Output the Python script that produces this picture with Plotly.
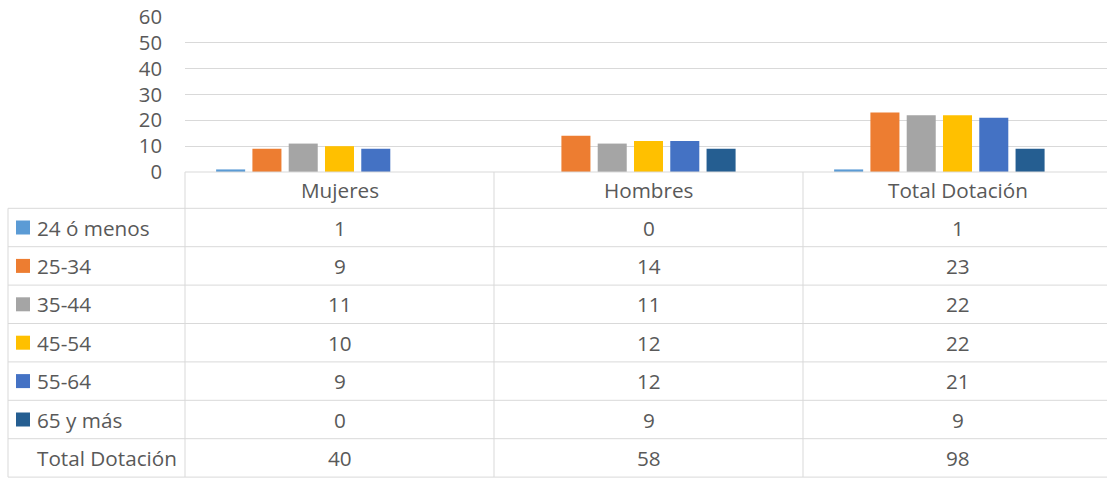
import plotly.graph_objects as go

# ---------------- data ----------------
categories = ["Mujeres", "Hombres", "Total Dotación"]
series_names = ["24 ó menos", "25-34", "35-44", "45-54", "55-64", "65 y más"]
s_24_menos = [1, 0, 1]
s_25_34 = [9, 14, 23]
s_35_44 = [11, 11, 22]
s_45_54 = [10, 12, 22]
s_55_64 = [9, 12, 21]
s_65_mas = [0, 9, 9]
total_name = "Total Dotación"
total_dotacion = [40, 58, 98]
y_ticks = [0, 10, 20, 30, 40, 50, 60]

series_values = [s_24_menos, s_25_34, s_35_44, s_45_54, s_55_64, s_65_mas]
colors = ["#5B9BD5", "#ED7D31", "#A5A5A5", "#FFC000", "#4472C4", "#255E91"]

# ---------------- geometry (pixels) ----------------
W, H = 1107, 478
FONT = "Open Sans"
FS = 20.7
FS_TICK = 20.3
TXT = "#595959"
LINE = "#D9D9D9"

plot_left = 185
col_w = 309
plot_top, plot_bottom = 17, 172
table_left = 8
header_bottom = 208.3
row_h = 38.4


def px(x):
    return x / W


def py(y):
    return 1 - y / H


fig = go.Figure()
for name, vals, col in zip(series_names, series_values, colors):
    fig.add_trace(go.Bar(name=name, x=categories, y=vals, marker=dict(color=col, line=dict(width=0))))
# invisible total series (occupies a slot like in the original)
fig.add_trace(go.Bar(name=total_name, x=categories, y=total_dotacion,
                     marker=dict(color="rgba(0,0,0,0)", line=dict(width=0)), hoverinfo="skip"))

shapes = []
annotations = []

n_rows = len(series_names) + 1
table_bottom = header_bottom + n_rows * row_h
col_edges = [plot_left + i * col_w for i in range(len(categories))]

# horizontal lines
shapes.append(dict(type="line", xref="paper", yref="paper", x0=px(plot_left), x1=1,
                   y0=py(plot_bottom), y1=py(plot_bottom), line=dict(color=LINE, width=1)))
for i in range(n_rows + 1):
    y = header_bottom + i * row_h
    shapes.append(dict(type="line", xref="paper", yref="paper", x0=px(table_left), x1=1,
                       y0=py(y), y1=py(y), line=dict(color=LINE, width=1)))
# vertical lines
shapes.append(dict(type="line", xref="paper", yref="paper", x0=px(table_left), x1=px(table_left),
                   y0=py(header_bottom), y1=py(table_bottom), line=dict(color=LINE, width=1)))
for x in col_edges:
    shapes.append(dict(type="line", xref="paper", yref="paper", x0=px(x), x1=px(x),
                       y0=py(plot_bottom), y1=py(table_bottom), line=dict(color=LINE, width=1)))

# header labels
for j, cat in enumerate(categories):
    cx = col_edges[j] + col_w / 2
    annotations.append(dict(xref="paper", yref="paper", x=px(cx), y=py((plot_bottom + header_bottom) / 2),
                            text=cat, showarrow=False, xanchor="center", yanchor="middle",
                            font=dict(family=FONT, size=FS, color=TXT)))

rows = list(zip(series_names, series_values, colors)) + [(total_name, total_dotacion, None)]
for i, (name, vals, col) in enumerate(rows):
    cy = header_bottom + (i + 0.5) * row_h
    if col is not None:
        shapes.append(dict(type="rect", xref="paper", yref="paper", x0=px(16), x1=px(30),
                           y0=py(cy - 7), y1=py(cy + 7), fillcolor=col, line=dict(width=0)))
    annotations.append(dict(xref="paper", yref="paper", x=px(35), y=py(cy), text=name, showarrow=False,
                            xanchor="left", yanchor="middle", font=dict(family=FONT, size=FS, color=TXT)))
    for j, v in enumerate(vals):
        cx = col_edges[j] + col_w / 2
        annotations.append(dict(xref="paper", yref="paper", x=px(cx), y=py(cy), text=str(v), showarrow=False,
                                xanchor="center", yanchor="middle",
                                font=dict(family=FONT, size=FS, color=TXT)))

visible_cols = (W - plot_left) / col_w

fig.update_layout(
    template="none",
    width=W, height=H,
    margin=dict(l=0, r=0, t=0, b=0, pad=0, autoexpand=False),
    paper_bgcolor="white", plot_bgcolor="white",
    barmode="group", bargap=0.178, bargroupgap=0.2,
    showlegend=False,
    font=dict(family=FONT, size=FS, color=TXT),
    xaxis=dict(domain=[px(plot_left), 1], range=[-0.5, -0.5 + visible_cols], automargin=False,
               showticklabels=False, showgrid=False, zeroline=False, showline=False, ticks=""),
    yaxis=dict(domain=[py(plot_bottom), py(plot_top)], range=[0, 60], tickvals=y_ticks, automargin=False,
               showgrid=True, gridcolor=LINE, gridwidth=1, zeroline=False, showline=False,
               ticks="", ticklabelstandoff=22,
               tickfont=dict(family=FONT, size=FS_TICK, color=TXT)),
    shapes=shapes,
    annotations=annotations,
)

fig.write_html(
    "out.html",
    config={"displayModeBar": False},
    post_script="document.body.style.margin='0';document.body.style.overflow='hidden';"
                "document.documentElement.style.overflow='hidden';",
)
